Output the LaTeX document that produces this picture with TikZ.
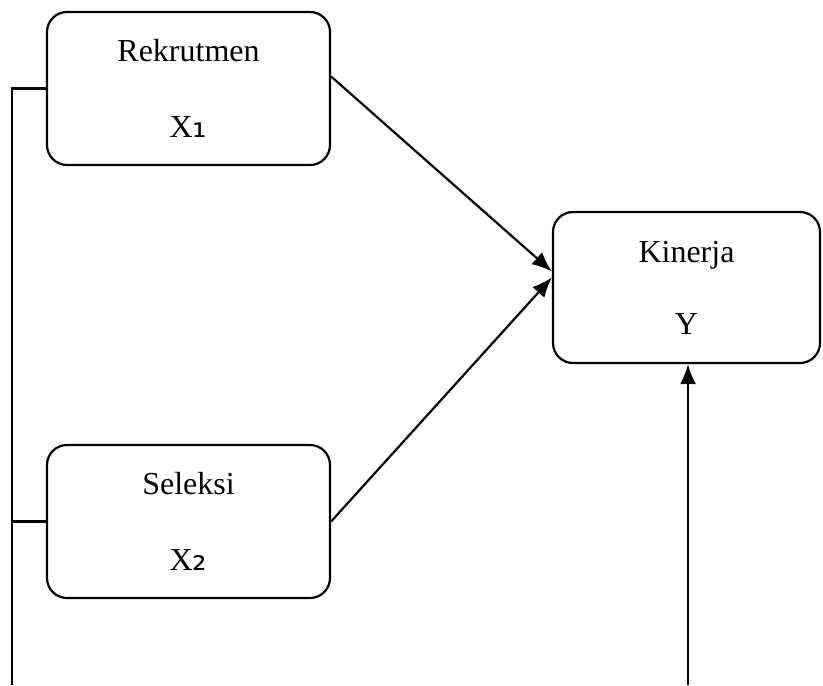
\documentclass[tikz,border=0pt]{standalone}
\usepackage{fontspec}
\setmainfont{Liberation Serif}
\newfontfamily\subfont{DejaVu Sans}
\usetikzlibrary{arrows.meta}
\newcommand{\sub}[1]{{\subfont\fontsize{18}{18}\selectfont #1}}
\tikzstyle{every node}=[font=\fontsize{16}{19}\selectfont]
\tikzstyle{block} = [rectangle, draw, line width=1.1pt, rounded corners=10pt, align=center, minimum width=141.5pt, minimum height=76.5pt, inner sep=0pt]
\tikzstyle{line} = [draw, line width=1.1pt, -{Latex[length=10pt,width=8pt]}]

\begin{document}
\begin{tikzpicture}[x=0.5pt, y=-0.5pt]
    \useasboundingbox (0,0) rectangle (823,685);
    % Place nodes
    \node [block] (rek) at (188.5,88.5) {Rekrutmen\\[19pt]X\sub{₁}};
    \node [block] (sel) at (188.5,521.5) {Seleksi\\[19pt]X\sub{₂}};
    \node [block, minimum width=133.5pt, minimum height=75.5pt] (kin) at (686.5,287.5) {Kinerja\\[17pt]Y};
    \coordinate (bl) at (12,685);
    \coordinate (br) at (688,685);
    % Draw edges
    \path [line] ([yshift=6pt]rek.east) -- ([yshift=8pt]kin.west);
    \path [line] (sel.east) -- ([yshift=5pt]kin.west);
    \path [line] (br) -- (br |- kin.south);
    \draw [line width=1.1pt] (rek.west) -| (bl);
    \draw [line width=1.1pt] (sel.west) -- (sel.west -| bl);
\end{tikzpicture}
\end{document}
